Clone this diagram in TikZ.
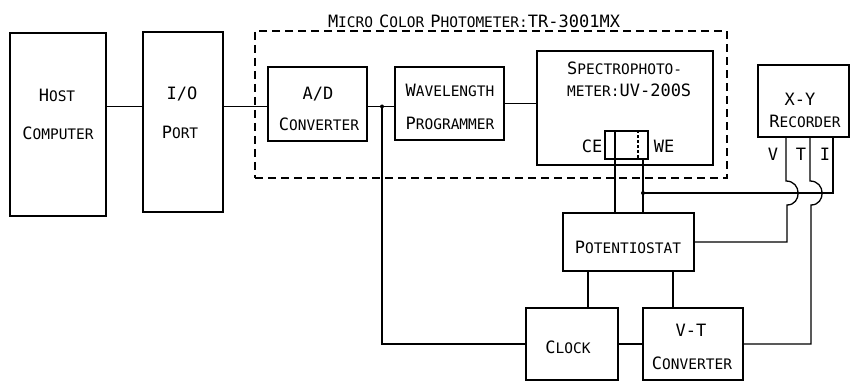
\documentclass[tikz,border=0pt]{standalone}
\usepackage{fontspec}
\setmainfont{DejaVu Sans Mono}
\newcommand\bgc{\fontsize{17}{17}\selectfont}
\newcommand\smc{\fontsize{14.5}{14.5}\selectfont}
\newcommand\sct[2]{{\bgc #1}{\smc #2}}
\begin{document}
\begin{tikzpicture}[x=1pt,y=-1pt,
  box/.style={draw,line width=1.6pt,inner sep=0pt},
  dashbox/.style={draw,line width=1.5pt,dash pattern=on 8pt off 5pt,inner sep=0pt},
  txt/.style={inner sep=0pt,align=center},
  wire/.style={line width=1.3pt},
  dot/.style={circle,fill,inner sep=0pt,minimum size=4pt}]
\useasboundingbox (0,0) rectangle (851,382);
% boxes
\node[box,minimum width=96pt,minimum height=183pt] (host) at (58,124.5) {};
\node[box,minimum width=80pt,minimum height=180pt] (io) at (183,122) {};
\node[dashbox,minimum width=472pt,minimum height=147pt] (mcp) at (491,104.5) {};
\node[box,minimum width=99pt,minimum height=74pt] (ad) at (317.5,104) {};
\node[box,minimum width=109pt,minimum height=73pt] (wl) at (449.5,103.5) {};
\node[box,minimum width=176pt,minimum height=114pt] (sp) at (625,108) {};
\node[box,line width=1.4pt,minimum width=43pt,minimum height=28pt] (cell) at (626.5,145) {};
\node[box,minimum width=91pt,minimum height=72pt] (rec) at (803.5,101) {};
\node[box,minimum width=131pt,minimum height=58pt] (pot) at (628.5,242) {};
\node[box,minimum width=92pt,minimum height=72pt] (clock) at (572,344) {};
\node[box,minimum width=100pt,minimum height=72pt] (vt) at (693,344) {};
% texts
\node[txt] (tHost1) at (57,95) {\sct{H}{OST}};
\node[txt] (tHost2) at (58,133) {\sct{C}{OMPUTER}};
\node[txt] (tIo1) at (182,94) {\bgc I/O};
\node[txt] (tIo2) at (180,132) {\sct{P}{ORT}};
\node[txt] (tAd1) at (318,94) {\bgc A/D};
\node[txt] (tAd2) at (319,124) {\sct{C}{ONVERTER}};
\node[txt] (tWl1) at (450,90) {\sct{W}{AVELENGTH}};
\node[txt] (tWl2) at (450,123) {\sct{P}{ROGRAMMER}};
\node[txt,anchor=west] (tSp1) at (567,68) {\sct{S}{PECTROPHOTO-}};
\node[txt,anchor=west] (tSp2) at (567,90) {{\smc METER:}{\bgc UV-200S}};
\node[txt] (tCE) at (592,146) {\bgc CE};
\node[txt] (tWE) at (664,146) {\bgc WE};
\node[txt] (tTitle) at (474,21) {\sct{M}{ICRO} \sct{C}{OLOR} \sct{P}{HOTOMETER:}{\bgc TR-3001MX}};
\node[txt] (tRec1) at (800,99) {\bgc X-Y};
\node[txt] (tRec2) at (805,121) {\sct{R}{ECORDER}};
\node[txt] (tV) at (773,154) {\bgc V};
\node[txt] (tT) at (801,154) {\bgc T};
\node[txt] (tI) at (825,154) {\bgc I};
\node[txt] (tPot) at (628,247) {\sct{P}{OTENTIOSTAT}};
\node[txt] (tClock) at (568,347) {\sct{C}{LOCK}};
\node[txt] (tVt1) at (691,330) {\bgc V-T};
\node[txt] (tVt2) at (692,363) {\sct{C}{ONVERTER}};
% helper coordinates
\coordinate (jA) at (382,106.5);
\coordinate (jB) at (643,193);
\coordinate (c1) at (615,0);
\coordinate (c3) at (638,0);
\coordinate (k1) at (588,0);
\coordinate (k2) at (673,0);
\coordinate (tvx) at (786,0);
\coordinate (ttx) at (810,0);
\coordinate (tix) at (833,0);
\coordinate (v1) at (786,181);
\coordinate (v2) at (787,205);
\coordinate (v3) at (787,242);
\coordinate (t1) at (810,181);
\coordinate (t2) at (811,205);
\coordinate (t3) at (811,344);
% cell inner lines
\draw[line width=1.2pt] (cell.north -| c3) -- (cell.south -| c3) [dash pattern=on 3pt off 2pt];
\draw[wire] (cell.north -| c1) -- (cell.south -| c1);
% connectors
\draw[wire] (host.east |- jA) -- (io.west |- jA);
\draw[wire] (io.east |- jA) -- (ad.west |- jA);
\draw[wire] (ad.east |- jA) -- (wl.west |- jA);
\draw[wire] (wl.east) -- (wl.east -| sp.west);
\draw[wire] (jA) -- (jA |- clock.west) -- (clock.west);
\node[dot] (dA) at (jA) {};
\draw[wire] (cell.south -| c1) -- (pot.north -| c1);
\draw[wire] (cell.south -| jB) -- (pot.north -| jB);
\node[dot] (dB) at (jB) {};
\draw[wire] (jB) -- (jB -| tix) -- (rec.south -| tix);
\draw[wire] (rec.south -| tvx) -- (v1) .. controls (802,181) and (802,205) .. (v2) -- (v3) -- (pot.east |- v3);
\draw[wire] (rec.south -| ttx) -- (t1) .. controls (826,181) and (826,205) .. (t2) -- (t3) -- (vt.east |- t3);
\draw[wire] (pot.south -| k1) -- (clock.north -| k1);
\draw[wire] (pot.south -| k2) -- (vt.north -| k2);
\draw[wire] (clock.east) -- (vt.west);
\end{tikzpicture}
\end{document}
